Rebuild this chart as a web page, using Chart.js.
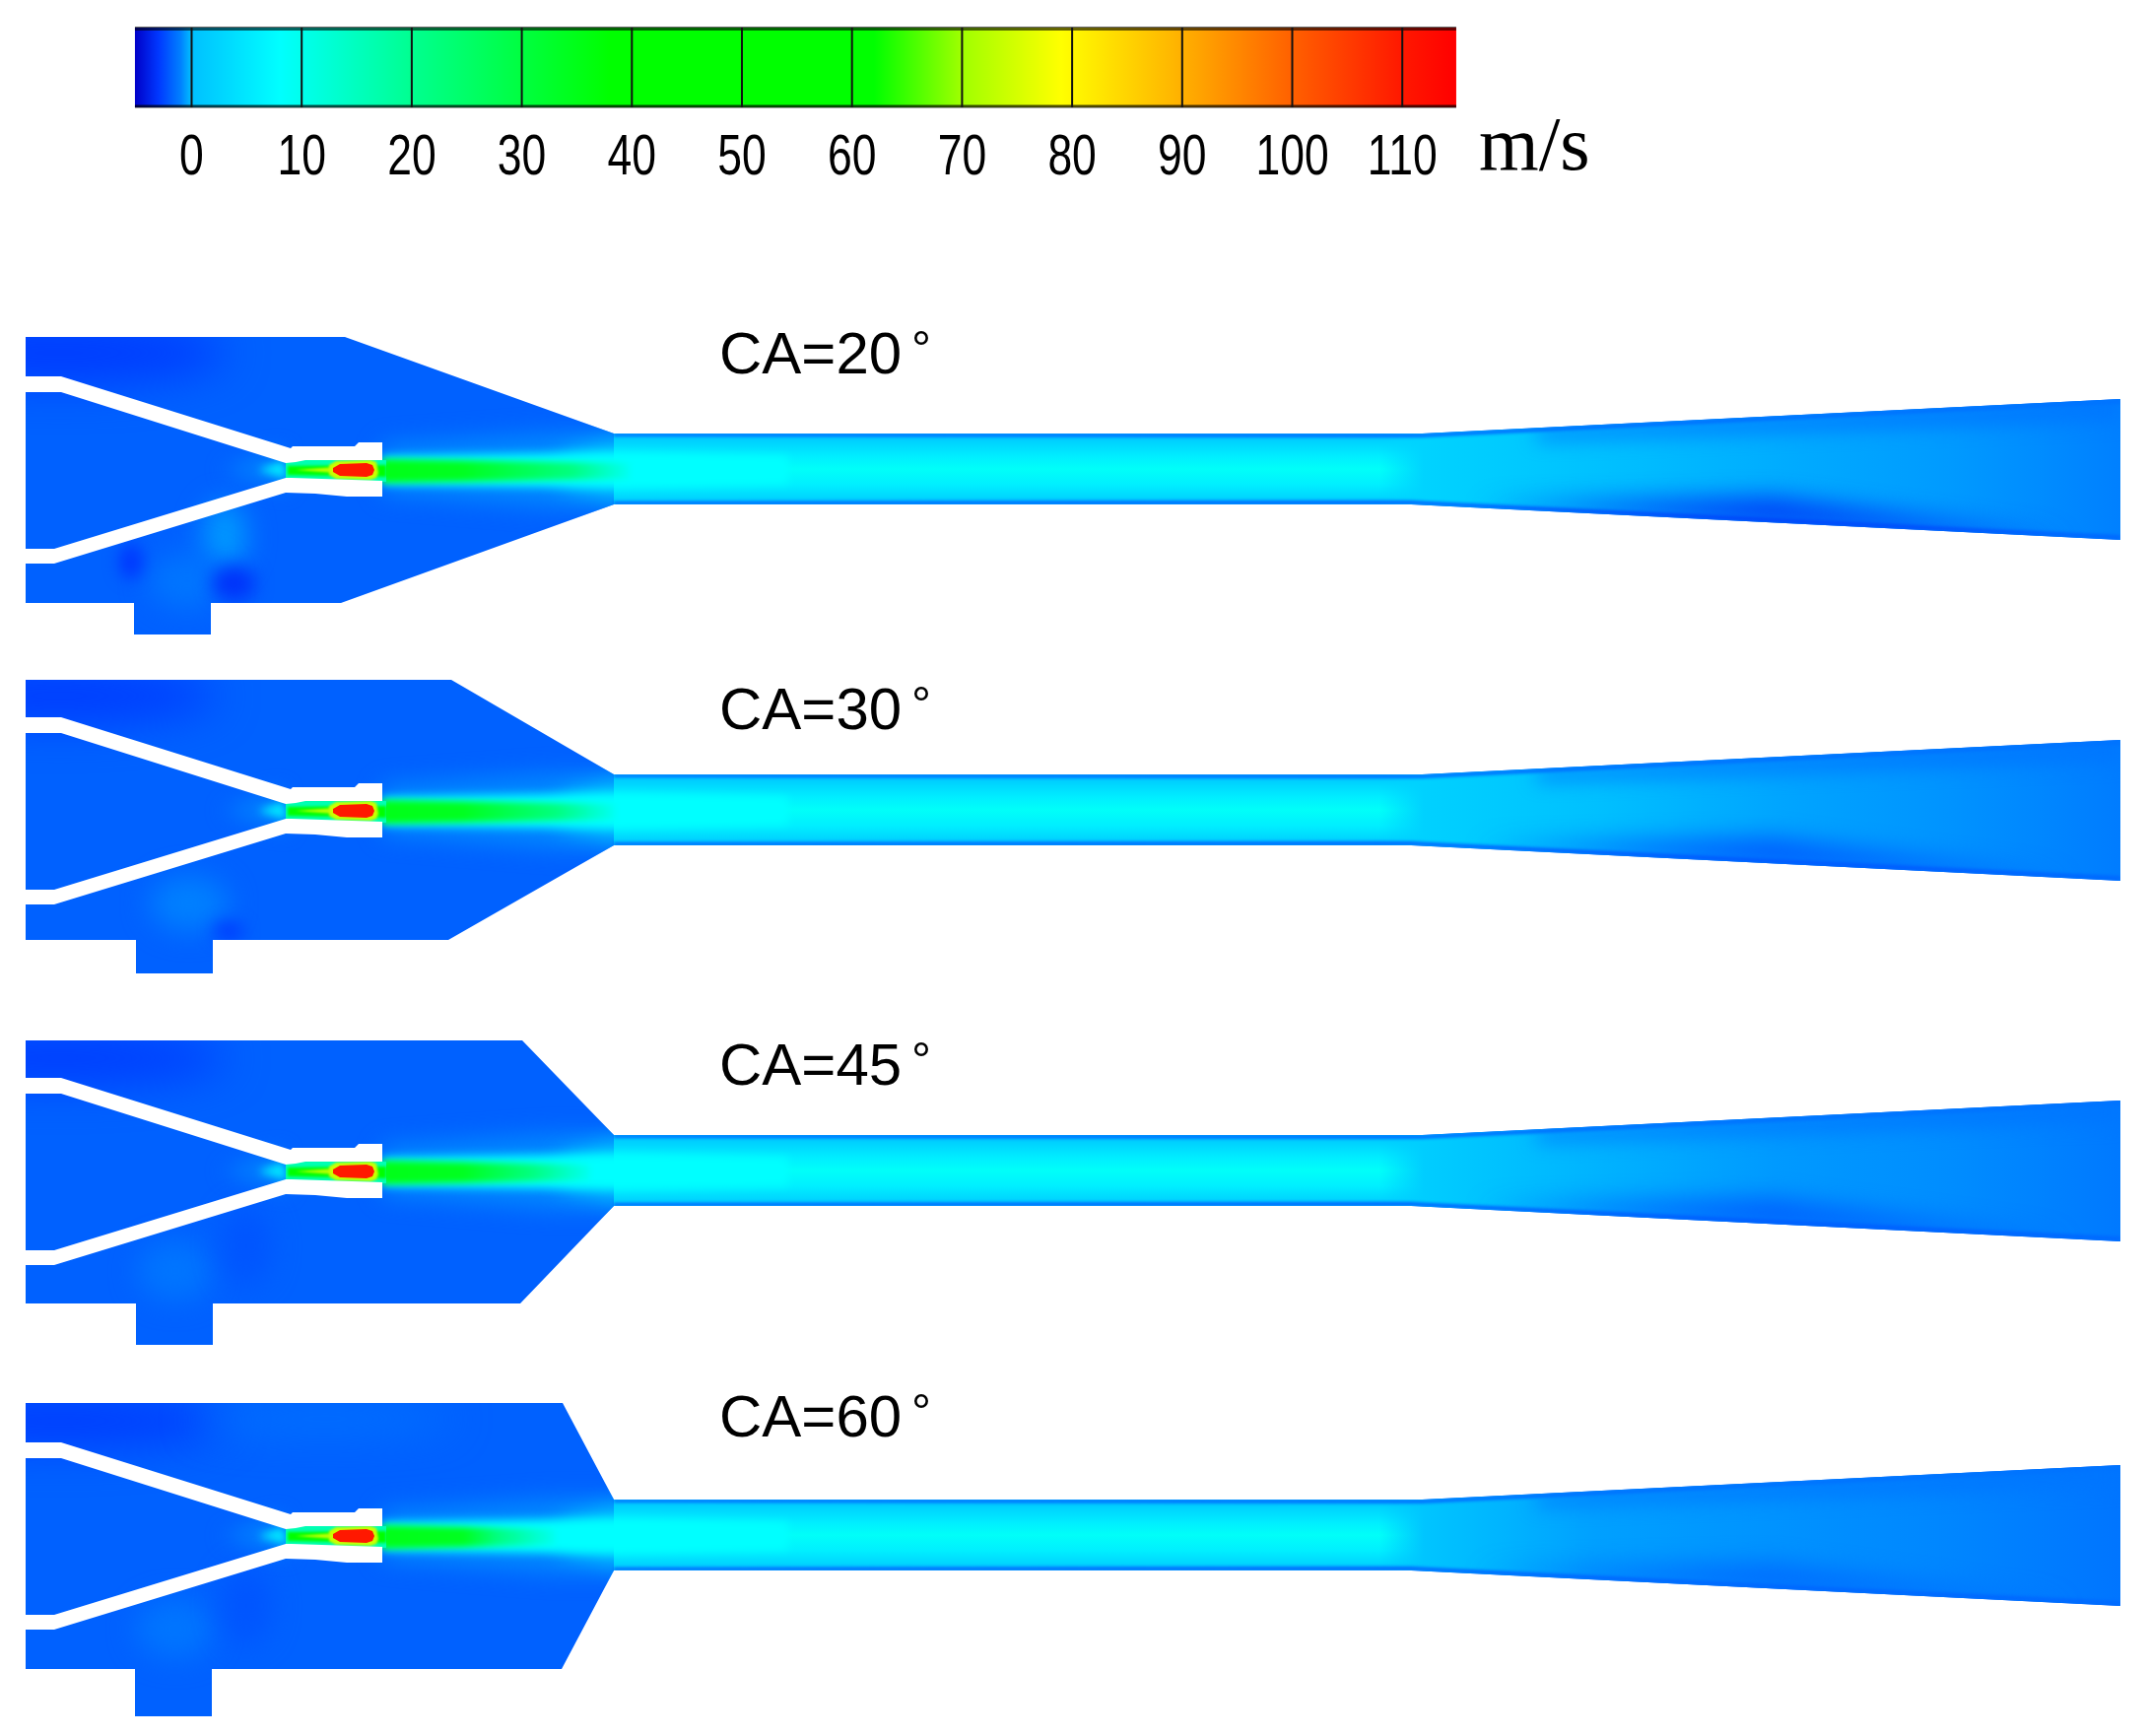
<!DOCTYPE html>
<html>
<head>
<meta charset="utf-8">
<title>Velocity contours</title>
<script src="https://cdn.jsdelivr.net/npm/chart.js@4/dist/chart.umd.js"></script>
<style>
  html, body { margin: 0; background: #fff; }
  canvas { display: block; filter: blur(0.7px); }
</style>
</head>
<body>
<canvas id="contours" width="2178" height="1762"></canvas>
<script>
// colour bar
const velocityTicks = [0, 10, 20, 30, 40, 50, 60, 70, 80, 90, 100, 110];
const barSpeeds = [-5.15, -3, -1, 0, 8, 20, 30, 38, 62, 70, 79, 90, 100, 110, 114.9];
const barColors = ["#0000c8", "#0038ff", "#0080ff", "#00c0ff", "#00ffff", "#00ff90", "#00ff40", "#00ff00",
  "#00ff00", "#a0ff00", "#ffff00", "#ffb000", "#ff6000", "#ff1800", "#ff0000"];
const unitLabel = "m/s";

// one entry per crank angle panel
const panelCaptions = ["CA=20°", "CA=30°", "CA=45°", "CA=60°"];
const captionBaseline = [379, 740, 1101, 1458];
const panelShift = [0, 346, 712, 1082];
const bodyTop = [342, 690, 1056, 1424];
const bodyBottom = [612, 954, 1323, 1694];
const coneTopX = [350, 458, 530, 571];
const coneBottomX = [346, 455, 528, 570];
const stubLeft = [136, 138, 138, 137];
const stubRight = [214, 216, 216, 215];
const stubEnd = [644, 988, 1365, 1742];
const jetFadeX = [640, 625, 600, 565];
const diffuserSpeeds = [
  [2.4, 2.4, 0.1, -0.3, -0.6, -1],
  [2.2, 2.2, 0, -0.4, -0.7, -1.1],
  [1.6, 1.6, -0.2, -0.6, -0.8, -1.2],
  [0.6, 0.6, -0.5, -0.7, -0.9, -1.3]
];
const diffuserLowSpeed = [-3.3, -2.3, -2.1, -1.7];

// duct stations, written for the CA=20 panel and moved by panelShift
const throatX = 623, throatTop = 440, throatBottom = 512;
const joinTopX = 1443, joinBottomX = 1432, outletX = 2152, outletTop = 405, outletBottom = 548;
const diffuserAt = [1400, 1445, 1620, 1800, 1980, 2152];
const throatAt = [440, 443, 451, 464, 476, 492, 504, 509, 512];
const throatSpeeds = [0, 1, 3, 6, 8.6, 6, 3, 1, 0];

// nozzle walls
const wallUpperX = [26, 62, 295, 297, 360, 364, 388, 388, 310, 300, 290, 62, 26];
const wallUpperY = [382, 382, 455, 453, 453, 449, 449, 467, 467, 469, 470, 398, 398];
const wallLowerX = [26, 55, 290, 296, 388, 388, 352, 320, 290, 55, 26];
const wallLowerY = [557, 557, 485, 485, 488, 504, 504, 501, 500, 572, 572];

// flow in and behind the nozzle
const passageX = [290, 392, 392, 290];
const passageY = [467, 467, 489, 489];
const coreX = [292, 392, 392, 292];
const coreY = [473, 472, 484, 482];
const streakX = [300, 340, 340];
const streakY = [477, 474, 480];
const hotX = [338, 345, 372, 378, 380, 378, 372, 345, 338];
const hotY = [475, 471, 470, 472, 477, 482, 484, 483, 479];
const glowX = [388, 560, 640, 640, 560, 388];
const glowY = [452, 440, 440, 514, 514, 500];
const plumeX = [388, 620, 800, 800, 620, 388];
const plumeY = [463, 459, 463, 491, 495, 492];
const jetY = [466, 470, 486, 490];
const inletGlowX = [225, 285, 292];
const inletGlowY = [477, 455, 498];
const inletCoreX = [262, 288, 292];
const inletCoreY = [477, 467, 487];

// slower and faster pockets of the chamber
const pocketPanel = [0, 0, 0, 0, 0, 1, 1, 1, 2, 2, 2, 3, 3, 3, 3];
const pocketX = [60, 228, 190, 133, 237, 60, 192, 232, 60, 178, 250, 60, 178, 250, 330];
const pocketY = [358, 545, 590, 570, 592, 706, 917, 945, 1074, 1290, 1265, 1442, 1653, 1630, 1440];
const pocketRx = [170, 22, 40, 12, 22, 160, 40, 16, 170, 38, 25, 170, 40, 25, 130];
const pocketRy = [32, 36, 28, 18, 18, 28, 28, 10, 26, 30, 40, 26, 30, 40, 14];
const pocketSpeed = [-2.9, -0.6, -1.3, -3, -3.2, -2.9, -1, -2.8, -2.9, -1.3, -2.2, -2.9, -1.3, -2.2, -1.4];
const pocketBlur = [22, 14, 14, 8, 9, 22, 14, 8, 22, 14, 14, 22, 14, 14, 20];

function colorAt(speed, alpha) {
  let i = 0;
  while (i < barSpeeds.length - 2 && speed > barSpeeds[i + 1]) i++;
  const t = Math.min(1, Math.max(0, (speed - barSpeeds[i]) / (barSpeeds[i + 1] - barSpeeds[i])));
  const a = parseInt(barColors[i].slice(1), 16), b = parseInt(barColors[i + 1].slice(1), 16);
  const mix = (s) => Math.round(((a >> s) & 255) + (((b >> s) & 255) - ((a >> s) & 255)) * t);
  return `rgba(${mix(16)},${mix(8)},${mix(0)},${alpha === undefined ? 1 : alpha})`;
}

const points = (xs, ys) => xs.map((x, i) => ({ x: x, y: ys[i] }));
const datasets = [];
const bodyIndex = [];

function addArea(xs, ys, opts) {
  datasets.push(Object.assign({ type: "scatter", xAxisID: "x", yAxisID: "y", data: points(xs, ys),
    pointRadius: 0, showLine: false }, opts));
}

function addLine(xs, ys, color, width) {
  datasets.push({ type: "scatter", xAxisID: "xv", yAxisID: "y", data: points(xs, ys), pointRadius: 0,
    showLine: true, borderColor: color, borderWidth: width, fill: false });
}

panelCaptions.forEach((caption, p) => {
  const s = panelShift[p];
  const up = (ys) => ys.map((y) => y + s);

  // whole duct outline, everything else in the panel is clipped to it
  bodyIndex[p] = datasets.length;
  addArea(
    [26, coneTopX[p], throatX, joinTopX, outletX, outletX, joinBottomX, throatX, coneBottomX[p],
      stubRight[p], stubRight[p], stubLeft[p], stubLeft[p], 26],
    [bodyTop[p], bodyTop[p], throatTop + s, throatTop + s, outletTop + s, outletBottom + s, throatBottom + s,
      throatBottom + s, bodyBottom[p], bodyBottom[p], stubEnd[p], stubEnd[p], bodyBottom[p], bodyBottom[p]],
    { paint: { speed: -1.85 } });

  pocketPanel.forEach((owner, i) => {
    if (owner !== p) return;
    addArea([pocketX[i]], [pocketY[i]], { paint: { speed: pocketSpeed[i] }, blur: pocketBlur[i], panel: p,
      pocket: { rx: pocketRx[i], ry: pocketRy[i] } });
  });

  // glow round the jet, then the throat and the diffuser
  addArea(glowX, up(glowY), { paint: { speed: -0.85 }, blur: 12, panel: p });
  addArea(inletGlowX, up(inletGlowY), { paint: { speed: -1 }, blur: 10, panel: p });
  addArea(inletCoreX, up(inletCoreY), { paint: { speed: 5 }, blur: 4, panel: p });
  addArea([570, 640, 640, 570], up([462, 446, 506, 492]), { paint: { speed: 2 }, blur: 12, panel: p });
  addArea([throatX, joinTopX + 4, joinTopX + 4, throatX], up([throatTop, throatTop, throatBottom, throatBottom]),
    { paint: { axis: "y", at: up(throatAt), speeds: throatSpeeds }, panel: p });
  // first stop of the diffuser is see-through so it melts into the throat
  addArea([1400, joinTopX, outletX, outletX, joinBottomX, 1400],
    up([throatTop, throatTop, outletTop, outletBottom, throatBottom, throatBottom]),
    { paint: { axis: "x", at: diffuserAt, speeds: diffuserSpeeds[p], fadeIn: true }, panel: p });
  addArea([throatX, joinTopX, outletX, outletX, joinTopX, throatX],
    up([throatTop, throatTop, outletTop, outletTop + 5, throatTop + 4, throatTop + 3]),
    { paint: { speed: -1.4 }, blur: 1.5, panel: p });
  addArea([throatX, joinBottomX, outletX, outletX, joinBottomX, throatX],
    up([throatBottom, throatBottom, outletBottom, outletBottom - 5, throatBottom - 4, throatBottom - 3]),
    { paint: { speed: -1.6 }, blur: 1.5, panel: p });
  addArea([1500, 1800, 2100, 1800], up([514, 532, 548, 506]),
    { paint: { speed: diffuserLowSpeed[p] }, blur: 13, panel: p });
  addArea([1560, outletX, outletX, 1560], up([436, outletTop, 425, 446]),
    { paint: { speed: -1.3 }, blur: 10, panel: p });

  // jet leaving the nozzle
  addArea(plumeX, up(plumeY), { paint: { speed: 8 }, blur: 5, panel: p });
  addArea([388, jetFadeX[p], jetFadeX[p], 388], up(jetY),
    { paint: { axis: "x", at: [388, 470, jetFadeX[p] - 60, jetFadeX[p]], speeds: [35, 34, 22, 9] }, blur: 3, panel: p });

  // inside the nozzle
  addArea(passageX, up(passageY), { paint: { speed: 16 }, panel: p });
  addArea(coreX, up(coreY), { paint: { speed: 42 }, blur: 1.5, panel: p });
  addArea(streakX, up(streakY), { paint: { speed: 72 }, blur: 1, panel: p });
  addArea(hotX.map((x) => x + (x < 360 ? -4 : 4)), up(hotY.map((y) => y + (y < 477 ? -3 : 3))),
    { paint: { speed: 74 }, blur: 1.2, panel: p });
  addArea(hotX, up(hotY), { paint: { speed: 110 }, blur: 0.6, panel: p });

  // solid nozzle walls stay white
  addArea(wallUpperX, up(wallUpperY), { paint: { color: "#ffffff" } });
  addArea(wallLowerX, up(wallLowerY), { paint: { color: "#ffffff" } });
});

// colour bar, on the velocity axis
const barLo = barSpeeds[0], barHi = barSpeeds[barSpeeds.length - 1];
datasets.push({ type: "scatter", xAxisID: "xv", yAxisID: "y", data: points([barLo, barHi, barHi, barLo], [28, 28, 109, 109]),
  pointRadius: 0, showLine: false, paint: { axis: "x", at: barSpeeds, speeds: barSpeeds } });
addLine([barLo, barHi], [29, 29], "rgba(0,0,0,0.6)", 4);
addLine([barLo, barHi], [108, 108], "rgba(0,0,0,0.7)", 3);
velocityTicks.forEach((v) => addLine([v, v], [28, 109], "#111", 2));

// Chart.js draws the highest order first
datasets.forEach((d, i) => { d.order = datasets.length - i; });

function tracePolygon(ctx, elements) {
  ctx.beginPath();
  elements.forEach((el, i) => { if (i) ctx.lineTo(el.x, el.y); else ctx.moveTo(el.x, el.y); });
  ctx.closePath();
}

// paints the contour areas through the pixel positions the scales gave them
const contourPaint = {
  id: "contourPaint",
  beforeDatasetDraw(chart, args) {
    const ds = chart.data.datasets[args.index];
    if (!ds.paint) return;
    const meta = args.meta, ctx = chart.ctx, paint = ds.paint;
    ctx.save();
    if (ds.panel !== undefined) {
      tracePolygon(ctx, chart.getDatasetMeta(bodyIndex[ds.panel]).data);
      ctx.clip();
    }
    if (ds.blur) ctx.filter = `blur(${ds.blur}px)`;
    if (paint.axis) {
      const scale = paint.axis === "x" ? meta.xScale : meta.yScale;
      const a = scale.getPixelForValue(paint.at[0]), b = scale.getPixelForValue(paint.at[paint.at.length - 1]);
      const grad = paint.axis === "x" ? ctx.createLinearGradient(a, 0, b, 0) : ctx.createLinearGradient(0, a, 0, b);
      paint.at.forEach((v, i) => {
        const alpha = paint.fadeIn && i === 0 ? 0 : 1;
        grad.addColorStop((scale.getPixelForValue(v) - a) / (b - a), colorAt(paint.speeds[i], alpha));
      });
      ctx.fillStyle = grad;
    } else {
      ctx.fillStyle = paint.color || colorAt(paint.speed);
    }
    if (ds.pocket) {
      const el = meta.data[0];
      const rx = Math.abs(meta.xScale.getPixelForValue(ds.pocket.rx) - meta.xScale.getPixelForValue(0));
      const ry = Math.abs(meta.yScale.getPixelForValue(ds.pocket.ry) - meta.yScale.getPixelForValue(0));
      ctx.beginPath();
      ctx.ellipse(el.x, el.y, rx, ry, 0, 0, Math.PI * 2);
    } else {
      tracePolygon(ctx, meta.data);
    }
    ctx.fill();
    ctx.restore();
  },
  afterDraw(chart) {
    const ctx = chart.ctx, x = chart.scales.x, y = chart.scales.y, xv = chart.scales.xv;
    ctx.save();
    ctx.fillStyle = "#000";
    ctx.textBaseline = "alphabetic";
    panelCaptions.forEach((c, p) => {
      const base = y.getPixelForValue(captionBaseline[p]);
      ctx.font = '60px "Liberation Sans"';
      ctx.fillText(c.slice(0, -1), x.getPixelForValue(730), base);
      ctx.font = '50px "Liberation Sans"';
      ctx.fillText(c.slice(-1), x.getPixelForValue(925), base - 8);
    });
    ctx.font = '78px "Liberation Serif"';
    ctx.fillText(unitLabel, x.getPixelForValue(1501), y.getPixelForValue(172));
    // tick labels of the bar are tall and narrow
    ctx.font = '57px "Liberation Sans"';
    ctx.textAlign = "center";
    velocityTicks.forEach((v) => {
      ctx.save();
      ctx.translate(xv.getPixelForValue(v), y.getPixelForValue(177));
      ctx.scale(0.78, 1);
      ctx.fillText(String(v), 0, 0);
      ctx.restore();
    });
    ctx.restore();
  }
};

new Chart(document.getElementById("contours"), {
  data: { datasets: datasets },
  options: {
    responsive: false,
    animation: false,
    layout: { padding: 0 },
    plugins: { legend: { display: false }, tooltip: { enabled: false } },
    scales: {
      x: { type: "linear", min: 0, max: 2178, display: false },
      y: { type: "linear", min: 0, max: 1762, reverse: true, display: false },
      xv: { type: "linear", min: -17.41, max: 177.57, display: false }
    }
  },
  plugins: [contourPaint]
});
</script>
</body>
</html>
